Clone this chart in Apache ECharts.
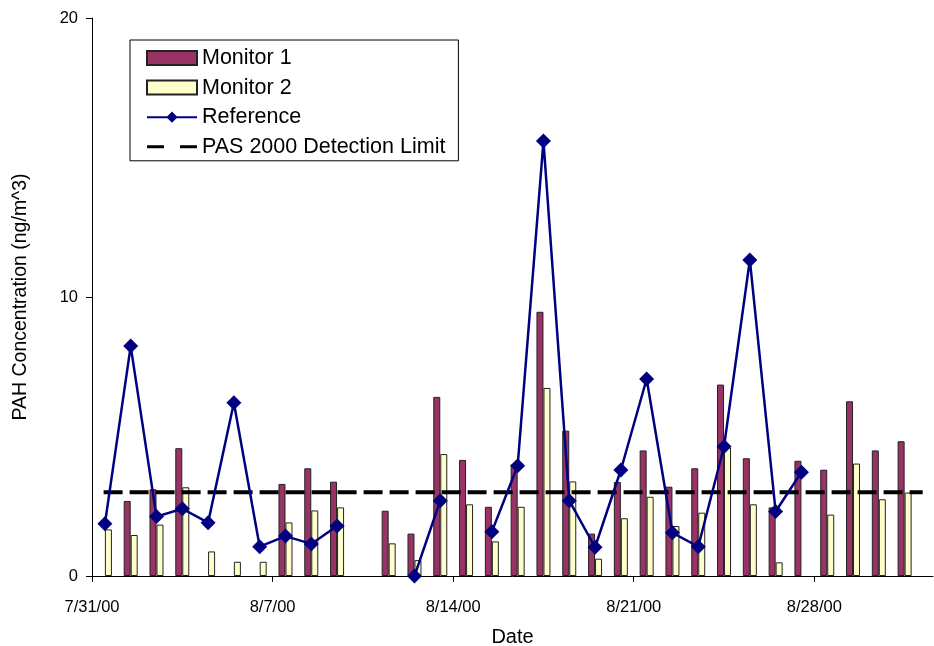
<!DOCTYPE html>
<html>
<head>
<meta charset="utf-8">
<script src="https://cdn.jsdelivr.net/npm/echarts@6/dist/echarts.min.js"></script>
<style>
html,body{margin:0;padding:0;background:#fff;overflow:hidden;}
#chart{width:934px;height:646px;}
</style>
</head>
<body>
<div id="chart"></div>
<script>
// Day index 0 = 7/31/00
var tickDays = [0, 7, 14, 21, 28];
var tickLabels = ['7/31/00', '8/7/00', '8/14/00', '8/21/00', '8/28/00'];
var monitor1 = [null, 2.69, 3.11, 4.58, null, null, null, 3.30, 3.86, 3.38, null, 2.34, 1.52, 6.42, 4.16, 2.48, 4.0, 9.47, 5.21, 1.52, 3.37, 4.50, 3.20, 3.86, 6.86, 4.22, 2.46, 4.13, 3.81, 6.26, 4.50, 4.83];
var monitor2 = [1.67, 1.47, 1.84, 3.18, 0.88, 0.51, 0.51, 1.92, 2.35, 2.46, null, 1.17, 0.57, 4.37, 2.57, 1.24, 2.48, 6.74, 3.39, 0.62, 2.07, 2.84, 1.79, 2.27, 4.61, 2.57, 0.49, null, 2.20, 4.03, 2.75, 2.99];
var reference = [1.87, 8.24, 2.13, 2.41, 1.91, 6.21, 1.05, 1.43, 1.15, 1.79, null, null, 0.0, 2.70, null, 1.59, 3.95, 15.59, 2.70, 1.03, 3.80, 7.06, 1.55, 1.05, 4.64, 11.33, 2.31, 3.72, null, null, null, null];
var detectionLimit = 3;
var limitSpan = [0.45, 32.2];
var xMax = 32.6;

function toPairs(arr) {
  return arr.map(function (v, i) { return [i + 0.5, v]; });
}

var chart = echarts.init(document.getElementById('chart'), null, {renderer: 'canvas', width: 934, height: 646});
var font = 'Liberation Sans, Arial, sans-serif';
// two short dashes, bounded to the full icon box so they keep their thickness
var dashIcon = 'path://M0,5.5H17V8.5H0Z M33,5.5H50V8.5H33Z M0,0H0.01V0.01H0Z M49.99,13.99H50V14H49.99Z';
chart.setOption({
  animation: false,
  backgroundColor: '#fff',
  textStyle: {fontFamily: font, color: '#000'},
  grid: {left: 92, right: 1, top: 18, bottom: 70, containLabel: false, outerBoundsMode: 'none'},
  legend: {
    orient: 'vertical',
    left: 130,
    top: 40,
    backgroundColor: '#fff',
    borderColor: '#000',
    borderWidth: 1,
    padding: [7, 13, 3, 16],
    itemGap: 7.6,
    itemWidth: 50,
    itemHeight: 14,
    textStyle: {fontFamily: font, fontSize: 21.5, color: '#000', lineHeight: 22},
    data: [
      {name: 'Monitor 1', icon: 'rect'},
      {name: 'Monitor 2', icon: 'rect'},
      {name: 'Reference'},
      {name: 'PAS 2000 Detection Limit', icon: dashIcon, itemStyle: {color: '#000', borderWidth: 0}}
    ]
  },
  xAxis: {
    type: 'value',
    min: 0,
    max: xMax,
    name: 'Date',
    nameLocation: 'middle',
    nameGap: 51,
    nameTextStyle: {fontFamily: font, fontSize: 20, color: '#000'},
    splitLine: {show: false},
    axisLine: {show: true, lineStyle: {color: '#000', width: 1}},
    axisTick: {show: true, inside: false, length: 6, lineStyle: {color: '#000'}, customValues: tickDays},
    axisLabel: {
      show: true, margin: 23, fontFamily: font, fontSize: 16.5, color: '#000',
      customValues: tickDays,
      formatter: function (v) { var k = tickDays.indexOf(Math.round(v)); return k >= 0 ? tickLabels[k] : ''; }
    }
  },
  yAxis: {
    type: 'value',
    min: 0,
    max: 20,
    interval: 10,
    name: 'PAH Concentration (ng/m^3)',
    nameLocation: 'middle',
    nameGap: 61,
    nameTextStyle: {fontFamily: font, fontSize: 19.5, color: '#000'},
    splitLine: {show: false},
    axisLine: {show: true, lineStyle: {color: '#000', width: 1}},
    axisTick: {show: true, inside: false, length: 6, lineStyle: {color: '#000'}},
    axisLabel: {margin: 14, fontFamily: font, fontSize: 16.5, color: '#000'}
  },
  series: [
    {
      name: 'Monitor 1', type: 'bar', data: toPairs(monitor1),
      barWidth: 7, barGap: '0%',
      itemStyle: {color: '#993366', borderColor: '#222', borderWidth: 1}
    },
    {
      name: 'Monitor 2', type: 'bar', data: toPairs(monitor2),
      barWidth: 7, barGap: '0%',
      itemStyle: {color: '#FFFFCC', borderColor: '#222', borderWidth: 1}
    },
    {
      name: 'PAS 2000 Detection Limit', type: 'line',
      data: limitSpan.map(function (x) { return [x, detectionLimit]; }),
      symbol: 'none', z: 3,
      lineStyle: {color: '#000', width: 4, type: [19, 7]},
      itemStyle: {color: '#000'}
    },
    {
      name: 'Reference', type: 'line', data: toPairs(reference),
      symbol: 'diamond', symbolSize: 15, connectNulls: false, z: 4,
      lineStyle: {color: '#000080', width: 2.5},
      itemStyle: {color: '#000080'}
    }
  ]
});
</script>
</body>
</html>
